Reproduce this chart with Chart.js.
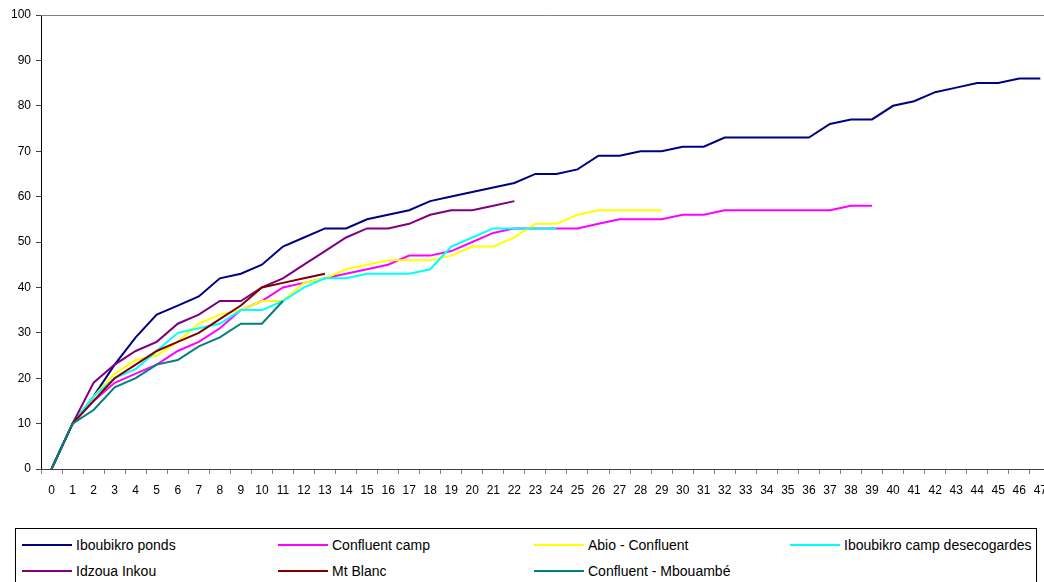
<!DOCTYPE html>
<html lang="fr">
<head>
<meta charset="UTF-8">
<title>Courbes d'accumulation</title>
<script src="https://cdn.jsdelivr.net/npm/chart.js"></script>
<style>
html, body {
	margin: 0;
	padding: 0;
	overflow: hidden;
	background: #fff;
	width: 1044px;
	height: 582px;
}

.chartBox {
	position: absolute;
	left: 0;
	top: 0;
	width: 1056px;
	height: 506px;
}

.legendBox {
	position: absolute;
	left: 15px;
	top: 528px;
	width: 1022px;
	height: 80px;
	border: 1px solid #000;
	box-sizing: border-box;
	padding: 3px 0 0 6px;
	display: grid;
	grid-template-columns: repeat(4, 256px);
	grid-auto-rows: 26px;
	font-family: "Liberation Sans", Arial, sans-serif;
	font-size: 14px;
	color: #000;
}

.legendItem {
	display: flex;
	align-items: center;
	white-space: nowrap;
}

.legendItem span {
	display: inline-block;
	width: 50px;
	height: 2px;
	margin-right: 4px;
}
</style>
</head>
<body>
	<div class="chartBox">
		<canvas id="chartAcc" width="1056" height="506"></canvas>
	</div>
	<div class="legendBox" id="legendBox"></div>
	<script>
	const xLabels = ['0', '1', '2', '3', '4', '5', '6', '7', '8', '9', '10', '11', '12', '13', '14', '15',
		'16', '17', '18', '19', '20', '21', '22', '23', '24', '25', '26', '27', '28', '29', '30', '31',
		'32', '33', '34', '35', '36', '37', '38', '39', '40', '41', '42', '43', '44', '45', '46', '47'];

	const iboubikroPonds = [0, 10, 16, 23, 29, 34, 36, 38, 42, 43, 45, 49, 51, 53, 53, 55, 56, 57, 59, 60,
		61, 62, 63, 65, 65, 66, 69, 69, 70, 70, 71, 71, 73, 73, 73, 73, 73, 76, 77, 77,
		80, 81, 83, 84, 85, 85, 86, 86];
	const confluentCamp = [0, 10, 15, 19, 21, 23, 26, 28, 31, 35, 37, 40, 41, 42, 43, 44, 45, 47, 47, 48,
		50, 52, 53, 53, 53, 53, 54, 55, 55, 55, 56, 56, 57, 57, 57, 57, 57, 57, 58, 58];
	const abioConfluent = [0, 10, 16, 21, 24, 25, 28, 32, 34, 35, 37, 37, 41, 42, 44, 45, 46, 46, 46, 47,
		49, 49, 51, 54, 54, 56, 57, 57, 57, 57];
	const iboubikroCamp = [0, 10, 16, 20, 22, 26, 30, 31, 32, 35, 35, 37, 40, 42, 42, 43, 43, 43, 44, 49,
		51, 53, 53, 53, 53];
	const idzouaInkou = [0, 10, 19, 23, 26, 28, 32, 34, 37, 37, 40, 42, 45, 48, 51, 53, 53, 54, 56, 57,
		57, 58, 59];
	const mtBlanc = [0, 10, 15, 20, 23, 26, 28, 30, 33, 36, 40, 41, 42, 43];
	const confluentMbouambe = [0, 10, 13, 18, 20, 23, 24, 27, 29, 32, 32, 37];

	const seriesNames = ['Iboubikro ponds', 'Confluent camp', 'Abio - Confluent', 'Iboubikro camp desecogardes',
		'Idzoua Inkou', 'Mt Blanc', 'Confluent - Mbouambé'];
	const seriesData = [iboubikroPonds, confluentCamp, abioConfluent, iboubikroCamp,
		idzouaInkou, mtBlanc, confluentMbouambe];
	const seriesColors = ['#000080', '#ff00ff', '#ffff00', '#00ffff', '#800080', '#800000', '#008080'];

	Chart.defaults.font.family = '"Liberation Sans", Arial, sans-serif';
	Chart.defaults.font.size = 12;
	Chart.defaults.color = '#000';

	// Excel draws the later series on top
	const datasets = seriesData.map((d, i) => ({
		label: seriesNames[i],
		data: d,
		borderColor: seriesColors[i],
		backgroundColor: seriesColors[i],
		borderWidth: 2,
		pointRadius: 0,
		tension: 0,
		fill: false,
		order: seriesData.length - i
	}));

	const topFrame = {
		id: 'topFrame',
		afterDraw(chart) {
			const ctx = chart.ctx;
			const a = chart.chartArea;
			ctx.save();
			ctx.strokeStyle = '#808080';
			ctx.lineWidth = 1;
			ctx.beginPath();
			ctx.moveTo(a.left, Math.round(a.top) + 0.5);
			ctx.lineTo(a.right, Math.round(a.top) + 0.5);
			ctx.stroke();
			ctx.restore();
		}
	};

	const ctx = document.getElementById('chartAcc').getContext('2d');
	const myChart = new Chart(ctx, {
		type: 'line',
		data: {
			labels: xLabels,
			datasets: datasets
		},
		options: {
			responsive: false,
			animation: false,
			devicePixelRatio: 1,
			layout: {
				padding: { top: 15, right: 0, bottom: 0, left: 0 }
			},
			plugins: {
				legend: { display: false },
				tooltip: { enabled: false }
			},
			scales: {
				x: {
					type: 'category',
					offset: true,
					afterFit: (scale) => { scale.height = 37; },
					grid: {
						offset: true,
						drawOnChartArea: false,
						tickLength: 5,
						color: '#808080'
					},
					border: { color: '#404040' },
					ticks: {
						autoSkip: false,
						maxRotation: 0,
						minRotation: 0,
						padding: 9,
						font: { size: 12 }
					}
				},
				y: {
					min: 0,
					max: 100,
					afterFit: (scale) => { scale.width = 41; },
					grid: {
						drawOnChartArea: false,
						tickLength: 5,
						color: '#404040'
					},
					border: { color: '#000' },
					ticks: {
						stepSize: 10,
						padding: 5,
						font: { size: 12 }
					}
				}
			}
		},
		plugins: [topFrame]
	});

	const legendBox = document.getElementById('legendBox');
	myChart.data.datasets.forEach(ds => {
		const item = document.createElement('div');
		item.className = 'legendItem';
		const line = document.createElement('span');
		line.style.background = ds.borderColor;
		item.appendChild(line);
		item.appendChild(document.createTextNode(ds.label));
		legendBox.appendChild(item);
	});
	</script>
</body>
</html>
